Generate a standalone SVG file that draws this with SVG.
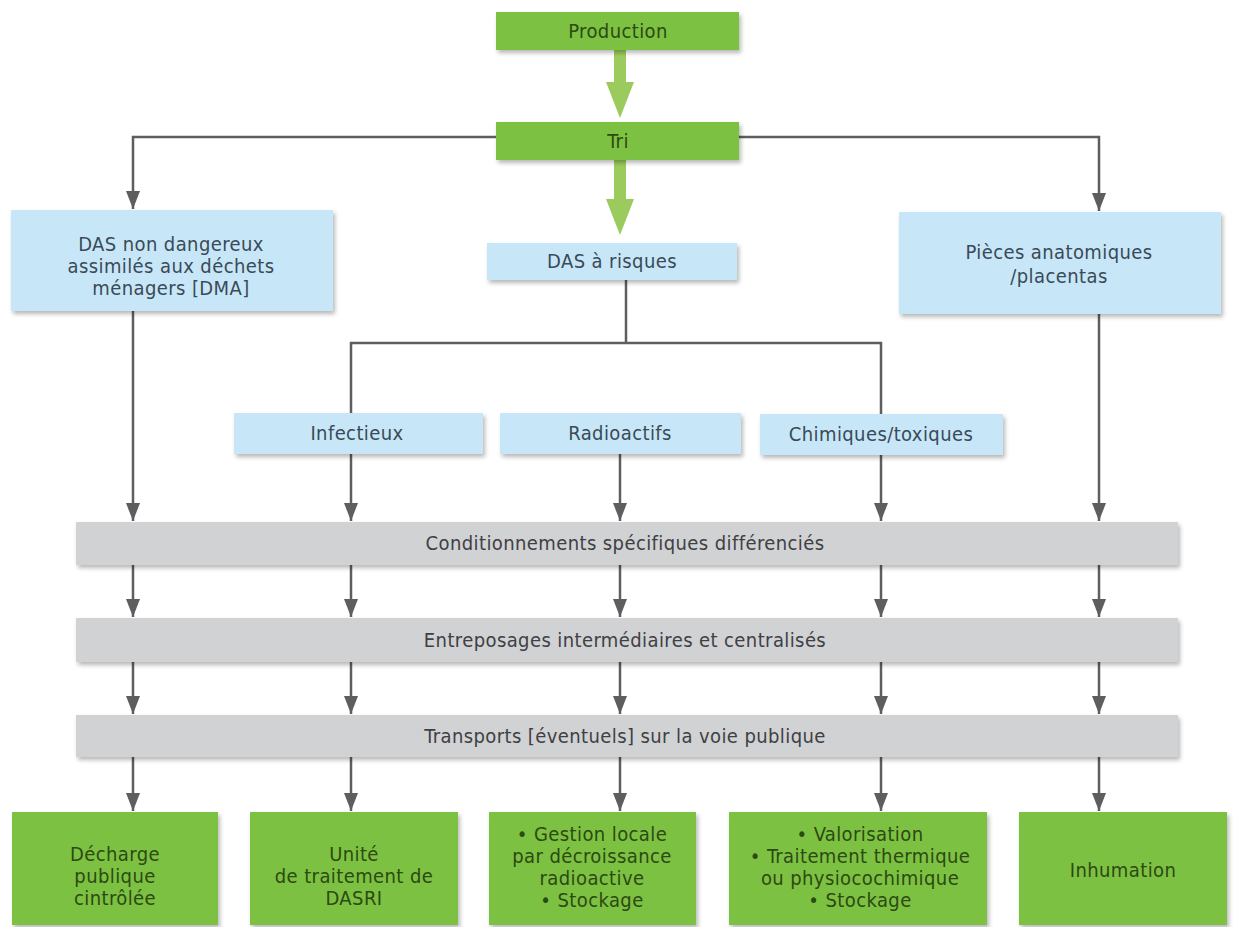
<svg xmlns="http://www.w3.org/2000/svg" width="1234" height="927" viewBox="0 0 1234 927">
<defs>
<filter id="sh" x="-10%" y="-20%" width="125%" height="150%">
<feDropShadow dx="2" dy="3" stdDeviation="2" flood-color="#000" flood-opacity="0.28"/>
</filter>
<marker id="ga" markerWidth="18" markerHeight="14" refX="18" refY="7" orient="auto" markerUnits="userSpaceOnUse">
<path d="M0,0 L18,7 L0,14 Z" fill="#5e5e60"/>
</marker>
</defs>
<style>
text{font-family:"DejaVu Sans Condensed","Roboto Condensed","Liberation Sans Narrow",Roboto,sans-serif;text-anchor:middle}
.g rect{fill:#7dc142;filter:url(#sh)}
.g text{fill:#2c4a12;font-size:20px;letter-spacing:0.4px}
.b rect{fill:#c7e7f8;filter:url(#sh)}
.b text{fill:#3a4a57;font-size:20px;letter-spacing:0.4px}
.r rect{fill:#d1d2d4;filter:url(#sh)}
.r text{fill:#3f4044;font-size:20px;letter-spacing:0.4px}
.c path{stroke:#5e5e60;stroke-width:2.5;fill:none}
.ga{fill:#9ccb5d}
</style>

<g id="connectors" class="c">
<polygon class="ga" points="614,50 626,50 626,82 634,82 620,118 606,82 614,82"/>
<polygon class="ga" points="614,160 626,160 626,199 634,199 620,235 606,199 614,199"/>
<path d="M496,137 H133 V209" marker-end="url(#ga)"/>
<path d="M739,137 H1099 V211" marker-end="url(#ga)"/>
<path d="M626,280 V343"/>
<path d="M351,413 V343 H881 V414"/>
<path d="M133,311 V521" marker-end="url(#ga)"/>
<path d="M351,454 V521" marker-end="url(#ga)"/>
<path d="M620,454 V521" marker-end="url(#ga)"/>
<path d="M881,455 V521" marker-end="url(#ga)"/>
<path d="M1099,314 V521" marker-end="url(#ga)"/>
<path d="M133,565 V617" marker-end="url(#ga)"/>
<path d="M351,565 V617" marker-end="url(#ga)"/>
<path d="M620,565 V617" marker-end="url(#ga)"/>
<path d="M881,565 V617" marker-end="url(#ga)"/>
<path d="M1099,565 V617" marker-end="url(#ga)"/>
<path d="M133,662 V714" marker-end="url(#ga)"/>
<path d="M351,662 V714" marker-end="url(#ga)"/>
<path d="M620,662 V714" marker-end="url(#ga)"/>
<path d="M881,662 V714" marker-end="url(#ga)"/>
<path d="M1099,662 V714" marker-end="url(#ga)"/>
<path d="M133,757 V811" marker-end="url(#ga)"/>
<path d="M351,757 V811" marker-end="url(#ga)"/>
<path d="M620,757 V811" marker-end="url(#ga)"/>
<path d="M881,757 V811" marker-end="url(#ga)"/>
<path d="M1099,757 V811" marker-end="url(#ga)"/>
</g>

<g id="production" class="g"><rect x="496" y="12" width="243" height="38"/><text x="618" y="38">Production</text></g>
<g id="tri" class="g"><rect x="496" y="122" width="243" height="38"/><text x="618" y="148">Tri</text></g>

<g id="das-non-dangereux" class="b"><rect x="11" y="210" width="322" height="101"/>
<text x="171" y="251">DAS non dangereux</text>
<text x="171" y="273">assimilés aux déchets</text>
<text x="171" y="295">ménagers [DMA]</text></g>
<g id="das-risques" class="b"><rect x="487" y="243" width="250" height="37"/><text x="612" y="268">DAS à risques</text></g>
<g id="pieces" class="b"><rect x="899" y="212" width="322" height="102"/>
<text x="1059" y="259">Pièces anatomiques</text>
<text x="1059" y="283">/placentas</text></g>

<g id="infectieux" class="b"><rect x="234" y="413" width="249" height="41"/><text x="357" y="440">Infectieux</text></g>
<g id="radioactifs" class="b"><rect x="500" y="413" width="241" height="41"/><text x="620" y="440">Radioactifs</text></g>
<g id="chimiques" class="b"><rect x="760" y="414" width="243" height="41"/><text x="881" y="441">Chimiques/toxiques</text></g>

<g id="conditionnements" class="r"><rect x="76" y="522" width="1102" height="43"/><text x="625" y="550">Conditionnements spécifiques différenciés</text></g>
<g id="entreposages" class="r"><rect x="76" y="618" width="1102" height="44"/><text x="625" y="647">Entreposages intermédiaires et centralisés</text></g>
<g id="transports" class="r"><rect x="76" y="715" width="1102" height="42"/><text x="625" y="743">Transports [éventuels] sur la voie publique</text></g>

<g id="decharge" class="g"><rect x="12" y="812" width="206" height="113"/>
<text x="115" y="861">Décharge</text><text x="115" y="883">publique</text><text x="115" y="905">cintrôlée</text></g>
<g id="unite" class="g"><rect x="250" y="812" width="208" height="113"/>
<text x="354" y="861">Unité</text><text x="354" y="883">de traitement de</text><text x="354" y="905">DASRI</text></g>
<g id="gestion" class="g"><rect x="489" y="812" width="207" height="113"/>
<text x="592" y="841">• Gestion locale</text><text x="592" y="863">par décroissance</text><text x="592" y="885">radioactive</text><text x="592" y="907">• Stockage</text></g>
<g id="valorisation" class="g"><rect x="729" y="812" width="258" height="113"/>
<text x="860" y="841">• Valorisation</text><text x="860" y="863">• Traitement thermique</text><text x="860" y="885">ou physiocochimique</text><text x="860" y="907">• Stockage</text></g>
<g id="inhumation" class="g"><rect x="1019" y="812" width="208" height="113"/><text x="1123" y="877">Inhumation</text></g>
</svg>
